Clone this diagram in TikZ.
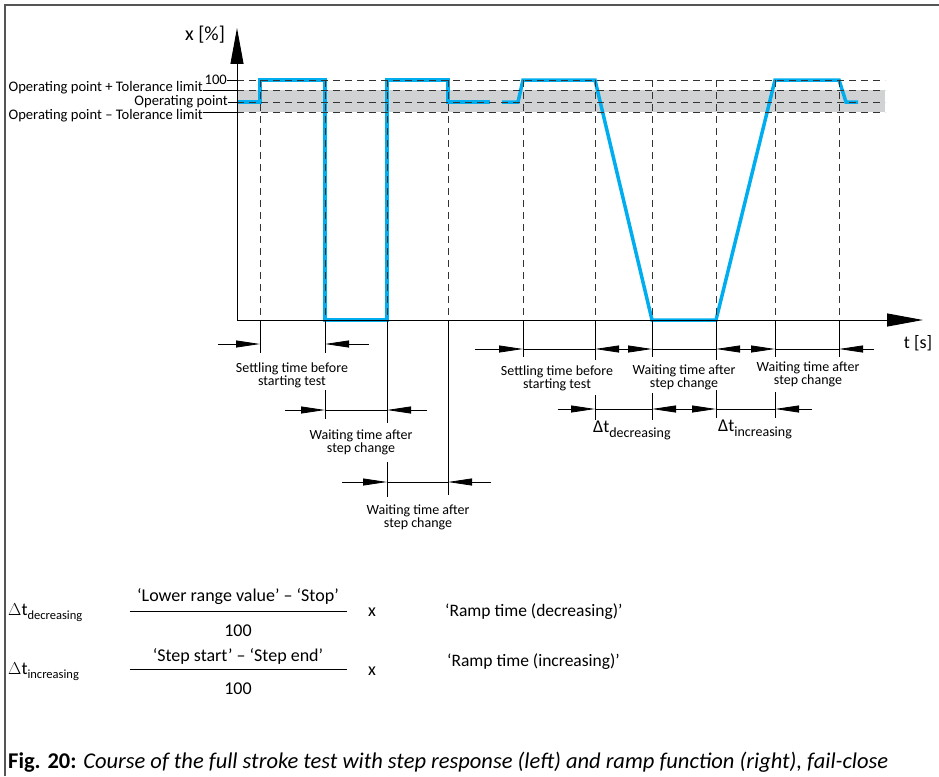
\documentclass[tikz,border=0pt]{standalone}
\usepackage{fontspec}
\setmainfont{Carlito}
\usetikzlibrary{arrows.meta,calc}
\definecolor{signal}{HTML}{00AEEF}
\definecolor{band}{HTML}{D1D2D4}
\definecolor{framegrey}{HTML}{555555}
\definecolor{guidegrey}{HTML}{333333}
\newcommand\setfs[2][0]{\fontsize{#2}{\dimexpr#2pt-#1pt\relax}\selectfont}

\begin{document}
\begin{tikzpicture}[x=1pt,y=-1pt,
  dimtip/.style={-{Triangle[length=24pt,width=7pt]},line width=0.8pt},
  dimboth/.style={{Triangle[length=24pt,width=7pt]}-{Triangle[length=24pt,width=7pt]},line width=0.8pt},
  dimline/.style={line width=0.8pt},
  guide/.style={guidegrey,line width=1pt,dash pattern=on 7pt off 5pt},
  axis/.style={line width=1pt,-{Triangle[length=36pt,width=13pt]}},
  lbl/.style={font=\setfs[1]{14},align=center,inner sep=0pt},
  ticklbl/.style={font=\setfs{14.6},inner sep=0pt,anchor=east},
  form/.style={font=\setfs{18},inner sep=0pt}]
\useasboundingbox (0,0) rectangle (939,776);
\draw[framegrey,line width=1.5pt] (5,776) -- (5,5) -- (939,5);

\coordinate (O) at (237,320);
\foreach \n/\x in {1/260,2/325,3/387,4/448,5/523,6/595,7/652,8/716,9/775,10/839}
  \coordinate (e\n) at (\x,320);

\fill[band] (237,90) rectangle (885,112);
\draw[signal,line width=3.5pt] (237,102) -- (260,102) -- (260,80) -- (325,80) -- (325,320) -- (387,320) -- (387,80) -- (448,80) -- (448,102) -- (490,102);
\draw[signal,line width=3.5pt] (502,102) -- (518,102) -- (523,80) -- (595,80) -- (652,320) -- (716,320) -- (775,80) -- (839,80) -- (846,102) -- (858,102);
\foreach \y in {80,90,102,112}
  \draw[guide] (237,\y) -- (885,\y);
\foreach \n in {1,...,10}
  \draw[guide] (e\n |- 0,80) -- (e\n);

\node[ticklbl] (hundred) at (227,80) {100};
\node[ticklbl] (tolup) at (203,88) {Operating point + Tolerance limit};
\node[ticklbl] (oppoint) at (228,102) {Operating point};
\node[ticklbl] (tollow) at (203,116) {Operating point – Tolerance limit};
\draw[line width=0.8pt] (hundred.east) -- (O |- hundred.east);
\draw[line width=0.8pt] (tolup.east |- 0,90) -- (O |- 0,90);
\draw[line width=0.8pt] (oppoint.east) -- (O |- oppoint.east);
\draw[line width=0.8pt] (tollow.east |- 0,112) -- (O |- 0,112);

\draw[axis] (O) -- (237,28) coordinate (ytip);
\draw[axis] (O) -- (923,320) coordinate (ttip);
\node[font=\setfs{20},inner sep=0pt] (ylabel) at (205,35) {x [\%]};
\node[font=\setfs{18},inner sep=0pt] (tlabel) at (918,343) {t [s]};

\foreach \n/\a/\b in {1/320/353,2/320/353,2/390/419,3/320/423,3/462/497,4/320/495,5/320/357,
    6/320/360,6/395/420,7/320/357,7/393/420,8/320/360,8/390/418,9/320/357,9/392/418,10/320/357}
  \draw[dimline] (e\n |- 0,\a) -- (e\n |- 0,\b);

\coordinate (r1) at (0,344);
\coordinate (r2) at (0,410);
\coordinate (r3) at (0,482);
\coordinate (r4) at (0,349);
\coordinate (r5) at (0,409);

\draw[dimtip] ($(e1|-r1)+(-42,0)$) -- (e1|-r1);
\draw[dimtip] ($(e2|-r1)+(44,0)$) -- (e2|-r1);
\draw[dimtip] ($(e2|-r2)+(-40,0)$) -- (e2|-r2);
\draw[dimline] (e2|-r2) -- (e3|-r2);
\draw[dimtip] ($(e3|-r2)+(40,0)$) -- (e3|-r2);
\draw[dimtip] ($(e3|-r3)+(-45,0)$) -- (e3|-r3);
\draw[dimline] (e3|-r3) -- (e4|-r3);
\draw[dimtip] ($(e4|-r3)+(43,0)$) -- (e4|-r3);

\draw[dimtip] ($(e5|-r4)+(-48,0)$) -- (e5|-r4);
\draw[dimline] (e5|-r4) -- (e6|-r4);
\draw[dimboth] (e6|-r4) -- (e7|-r4);
\draw[dimline] (e7|-r4) -- (e8|-r4);
\draw[dimboth] (e8|-r4) -- (e9|-r4);
\draw[dimline] (e9|-r4) -- (e10|-r4);
\draw[dimtip] ($(e10|-r4)+(35,0)$) -- (e10|-r4);

\draw[dimtip] ($(e6|-r5)+(-37,0)$) -- (e6|-r5);
\draw[dimline] (e6|-r5) -- (e7|-r5);
\draw[dimboth] (e7|-r5) -- (e8|-r5);
\draw[dimline] (e8|-r5) -- (e9|-r5);
\draw[dimtip] ($(e9|-r5)+(37,0)$) -- (e9|-r5);

\node[lbl] (settleleft) at (292,375) {Settling time before\\starting test};
\node[lbl] (waitleft) at (361,442) {Waiting time after\\step change};
\node[lbl] (waitmid) at (418,517) {Waiting time after\\step change};
\node[lbl] (settleright) at (557,378) {Settling time before\\starting test};
\node[lbl] (waitdec) at (684,377) {Waiting time after\\step change};
\node[lbl] (waitinc) at (808,374) {Waiting time after\\step change};
\node[font=\setfs{18},inner sep=0pt,anchor=base west] (dtdec) at (593,432) {Δt{\setfs{14}\raisebox{-5pt}{decreasing}}};
\node[font=\setfs{18},inner sep=0pt,anchor=base west] (dtinc) at (718,431) {Δt{\setfs{14}\raisebox{-5pt}{increasing}}};

\node[form,anchor=west] (symdec) at (8,613) {$\Delta$t{\setfs{12.5}\raisebox{-4pt}{decreasing}}};
\node[form] (numdec) at (238,597) {‘Lower range value’ – ‘Stop’};
\node[form] (dendec) at (238,631) {100};
\draw[line width=0.8pt] (130,611) -- (347,611);
\node[form] (timesdec) at (372,612) {x};
\node[form,font=\setfs{17.5},anchor=west] (rampdec) at (445,612) {‘Ramp time (decreasing)’};

\node[form,anchor=west] (syminc) at (8,672) {$\Delta$t{\setfs{12.5}\raisebox{-4pt}{increasing}}};
\node[form] (numinc) at (238,656) {‘Step start’ – ‘Step end’};
\node[form] (deninc) at (238,689) {100};
\draw[line width=0.8pt] (130,669) -- (347,669);
\node[form] (timesinc) at (372,671) {x};
\node[form,font=\setfs{17.5},anchor=west] (rampinc) at (447,662) {‘Ramp time (increasing)’};

\node[font=\setfs{22.5},inner sep=0pt,anchor=west] (caption) at (8,762)
  {\textbf{Fig. 20:} \textit{Course of the full stroke test with step response (left) and ramp function (right), fail-close}};
\end{tikzpicture}
\end{document}
